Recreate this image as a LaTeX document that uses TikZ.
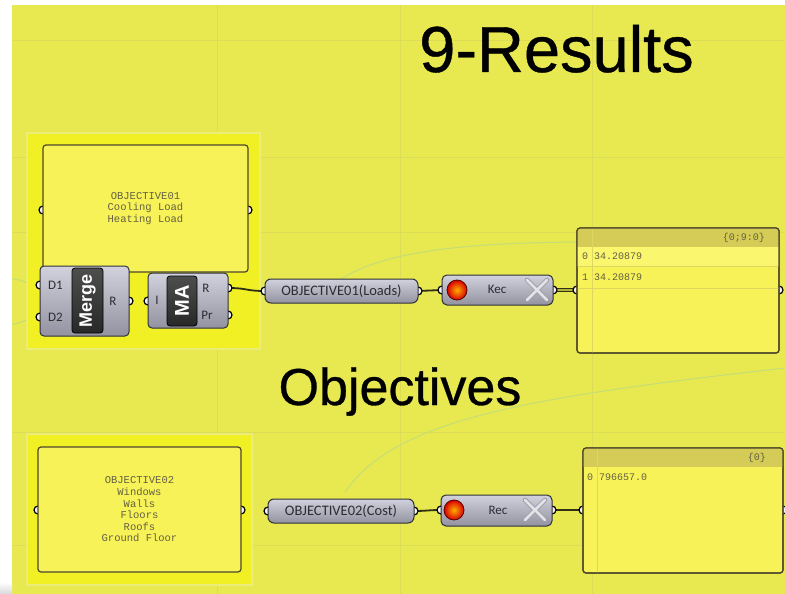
\documentclass[tikz,border=0pt]{standalone}
\usepackage{fontspec}
\setmainfont{Liberation Sans}
\newfontfamily\titlefont{Liberation Sans}[FakeBold=0.6]
\newfontfamily\uifont{Carlito}
\newfontfamily\panelfont{Liberation Mono}

\definecolor{canvas}{RGB}{232,232,80}
\definecolor{gridline}{RGB}{220,220,86}
\definecolor{grpfill}{RGB}{240,240,36}
\definecolor{grpedge}{RGB}{236,236,120}
\definecolor{panelfill}{RGB}{247,242,88}
\definecolor{paneledge}{RGB}{78,70,42}
\definecolor{headerfill}{RGB}{212,204,86}
\definecolor{rowfill}{RGB}{250,246,110}
\definecolor{sepline}{RGB}{222,214,96}
\definecolor{paneltext}{RGB}{100,96,66}
\definecolor{wire}{RGB}{48,48,20}
\definecolor{ghost}{RGB}{196,222,120}
\definecolor{comptop}{RGB}{210,210,222}
\definecolor{compbot}{RGB}{146,146,160}
\definecolor{compedge}{RGB}{48,48,58}
\definecolor{innertop}{RGB}{78,78,78}
\definecolor{innerbot}{RGB}{40,40,40}
\definecolor{labeldark}{RGB}{44,44,52}
\definecolor{crossfill}{RGB}{226,226,232}
\definecolor{crossedge}{RGB}{160,160,170}

\begin{document}
\begin{tikzpicture}[x=1pt,y=-1pt,
  groupbox/.style={fill=grpfill,draw=grpedge,line width=1.5pt},
  panelbox/.style={fill=panelfill,draw=paneledge,line width=1.2pt,rounded corners=3pt,
    inner sep=0pt,font=\panelfont\fontsize{10.5}{11.6}\selectfont,text=paneltext,align=center},
  compbody/.style={top color=comptop,bottom color=compbot,draw=compedge,line width=1pt,
    rounded corners=4pt,inner sep=0pt},
  pillbody/.style={compbody,rounded corners=6pt,font=\uifont\fontsize{14.5}{16}\selectfont,text=labeldark},
  innerbox/.style={top color=innertop,bottom color=innerbot,draw=black,line width=0.8pt,
    rounded corners=3pt,inner sep=0pt},
  innerlabel/.style={text=white,font=\bfseries,rotate=90},
  plabel/.style={font=\uifont\fontsize{13}{14}\selectfont,text=labeldark,inner sep=0pt},
  grip/.style={circle,fill=white!92!gray,draw=black,line width=1.2pt,minimum size=8pt,inner sep=0pt},
  wire/.style={draw=wire,line width=1.8pt},
  listwire/.style={draw=wire,line width=1.2pt,double=canvas!70!wire,double distance=1.3pt},
  ghostwire/.style={draw=ghost,line width=1pt},
  datatext/.style={font=\panelfont\fontsize{10}{11}\selectfont,text=paneltext,inner sep=0pt},
  titletext/.style={text=black,inner sep=0pt}
]
\useasboundingbox (0,0) rectangle (785,594);

% canvas with its white margin
\fill[white] (0,0) rectangle (785,594);
\fill[canvas] (12,5) rectangle (785,594);
\shade[top color=white,bottom color=gray!30] (0,582) rectangle (12,594);

% faint canvas grid
\foreach \gx in {217,400,592} \draw[gridline,line width=0.6pt] (\gx,5) -- (\gx,594);
\foreach \gy in {40,157,232,432,545} \draw[gridline,line width=0.6pt] (12,\gy) -- (785,\gy);

% faint unselected wires in the background
\draw[ghostwire] (335,283) .. controls (380,250) and (470,243) .. (577,242);
\draw[ghostwire] (345,492) .. controls (395,420) and (520,398) .. (785,368);
\draw[ghostwire] (12,279) .. controls (22,279) and (28,285) .. (40,285);
\draw[ghostwire] (12,324) .. controls (22,324) and (28,317) .. (40,317);

% groups
\draw[groupbox] (27,133) rectangle (260,349);
\draw[groupbox] (27,434) rectangle (252,585);

% titles
\node[titletext,anchor=base,font=\titlefont\fontsize{65}{70}\selectfont] (title) at (556.5,72) {9-Results};
\node[titletext,anchor=base,font=\titlefont\fontsize{52}{56}\selectfont] (subtitle) at (400,405) {Objectives};

% grip positions
\coordinate (p1in) at (43,210);   \coordinate (p1out) at (248,210);
\coordinate (mD1) at (40,285);    \coordinate (mD2) at (40,317);   \coordinate (mR) at (129,301);
\coordinate (maI) at (148,301);   \coordinate (maR) at (228,288);  \coordinate (maPr) at (228,315);
\coordinate (o1in) at (265,291);  \coordinate (o1out) at (418,291);
\coordinate (r1in) at (442,290);  \coordinate (r1out) at (553,290);
\coordinate (d1in) at (577,290);  \coordinate (d1out) at (779,290);
\coordinate (p2in) at (38,510);   \coordinate (p2out) at (241,510);
\coordinate (o2in) at (268,511);  \coordinate (o2out) at (414,511);
\coordinate (r2in) at (441,510);  \coordinate (r2out) at (552,510);
\coordinate (d2in) at (583,510);  \coordinate (d2out) at (783,510);

% wires
\draw[wire] (maR) .. controls +(20,0) and +(-20,0) .. (o1in);
\draw[wire] (o1out) .. controls +(12,0) and +(-12,0) .. (r1in);
\draw[listwire] (r1out) .. controls +(12,0) and +(-12,0) .. (d1in);
\draw[wire] (o2out) .. controls +(12,0) and +(-12,0) .. (r2in);
\draw[wire] (r2out) .. controls +(14,0) and +(-14,0) .. (d2in);

% grips (bodies drawn afterwards cover their inner halves)
\foreach \g in {p1in,p1out,mD1,mD2,mR,maI,maR,maPr,o1in,o1out,r1in,r1out,d1in,d1out,
                p2in,p2out,o2in,o2out,r2in,r2out,d2in,d2out}
  \node[grip] (grip-\g) at (\g) {};

% ---- upper group: text panel, Merge, Mass Addition
\node[panelbox,minimum width=205pt,minimum height=127pt] (panel1) at (145.5,208.5)
  {OBJECTIVE01\\Cooling Load\\Heating Load};

\node[compbody,minimum width=89pt,minimum height=70pt] (merge) at (84.5,301) {};
\node[innerbox,minimum width=31pt,minimum height=65pt] (mergecore) at (87.5,300.5) {};
\node[innerlabel,font=\bfseries\fontsize{18}{20}\selectfont] (mergelabel) at (mergecore) {Merge};
\node[plabel] (lD1) at (55.5,285) {D1};
\node[plabel] (lD2) at (55.5,317) {D2};
\node[plabel] (lR) at (113,301) {R};

\node[compbody,minimum width=80pt,minimum height=55pt] (ma) at (188,300.5) {};
\node[innerbox,minimum width=30pt,minimum height=50pt] (macore) at (182,301) {};
\node[innerlabel,font=\bfseries\fontsize{20}{22}\selectfont] (malabel) at (macore) {MA};
\node[plabel] (lI) at (157,300) {I};
\node[plabel] (lmaR) at (206,288) {R};
\node[plabel] (lPr) at (207,315) {Pr};

% ---- upper chain
\node[pillbody,minimum width=153pt,minimum height=24pt] (obj1) at (341.5,291) {OBJECTIVE01(Loads)};

\node[compbody,rounded corners=5pt,minimum width=111pt,minimum height=30pt] (rec1) at (497.5,290) {};
\shade[inner color=orange!65!yellow,outer color=red!85!black,draw=red!35!black,line width=0.8pt]
  (457,290) circle (10pt);
\node[plabel] (rec1label) at (497,289.5) {Kec};
\draw[crossedge,line width=4.6pt,line cap=round] (527,280) -- (547,300) (527,300) -- (547,280);
\draw[crossfill,line width=2.8pt,line cap=round] (527,280) -- (547,300) (527,300) -- (547,280);

% data panel 1
\node[panelbox,minimum width=202pt,minimum height=125pt] (data1) at (678,290.5) {};
\begin{scope}
  \clip[rounded corners=3pt] (577,228) rectangle (779,353);
  \fill[headerfill] (577,228) rectangle (779,247);
  \fill[rowfill] (577,247) rectangle (779,266);
  \draw[sepline,line width=0.6pt] (577,266) -- (779,266) (577,288) -- (779,288);
  \draw[sepline,line width=0.8pt] (592,228) -- (592,353);
\end{scope}
\draw[paneledge,line width=1.2pt,rounded corners=3pt] (577,228) rectangle (779,353);
\node[datatext,anchor=east] (hdr1) at (765,237.5) {\{0;9:0\}};
\node[datatext,anchor=west] (row10) at (582,256) {0 34.20879};
\node[datatext,anchor=west] (row11) at (582,277) {1 34.20879};

% ---- lower group: text panel
\node[panelbox,minimum width=203pt,minimum height=125pt] (panel2) at (139.5,509.5)
  {OBJECTIVE02\\Windows\\Walls\\Floors\\Roofs\\Ground Floor};

% ---- lower chain
\node[pillbody,minimum width=146pt,minimum height=24pt] (obj2) at (341,511) {OBJECTIVE02(Cost)};

\node[compbody,rounded corners=5pt,minimum width=111pt,minimum height=31pt] (rec2) at (496.5,510.5) {};
\shade[inner color=orange!65!yellow,outer color=red!85!black,draw=red!35!black,line width=0.8pt]
  (454,510) circle (10pt);
\node[plabel] (rec2label) at (498,510) {Rec};
\draw[crossedge,line width=4.6pt,line cap=round] (525,500) -- (545,520) (525,520) -- (545,500);
\draw[crossfill,line width=2.8pt,line cap=round] (525,500) -- (545,520) (525,520) -- (545,500);

% data panel 2
\node[panelbox,minimum width=200pt,minimum height=125pt] (data2) at (683,510.5) {};
\begin{scope}
  \clip[rounded corners=3pt] (583,448) rectangle (783,573);
  \fill[headerfill] (583,448) rectangle (783,467);
  \draw[sepline,line width=0.8pt] (597,448) -- (597,573);
\end{scope}
\draw[paneledge,line width=1.2pt,rounded corners=3pt] (583,448) rectangle (783,573);
\node[datatext,anchor=east] (hdr2) at (766,457.5) {\{0\}};
\node[datatext,anchor=west] (row20) at (587,477) {0 796657.0};
\end{tikzpicture}
\end{document}
